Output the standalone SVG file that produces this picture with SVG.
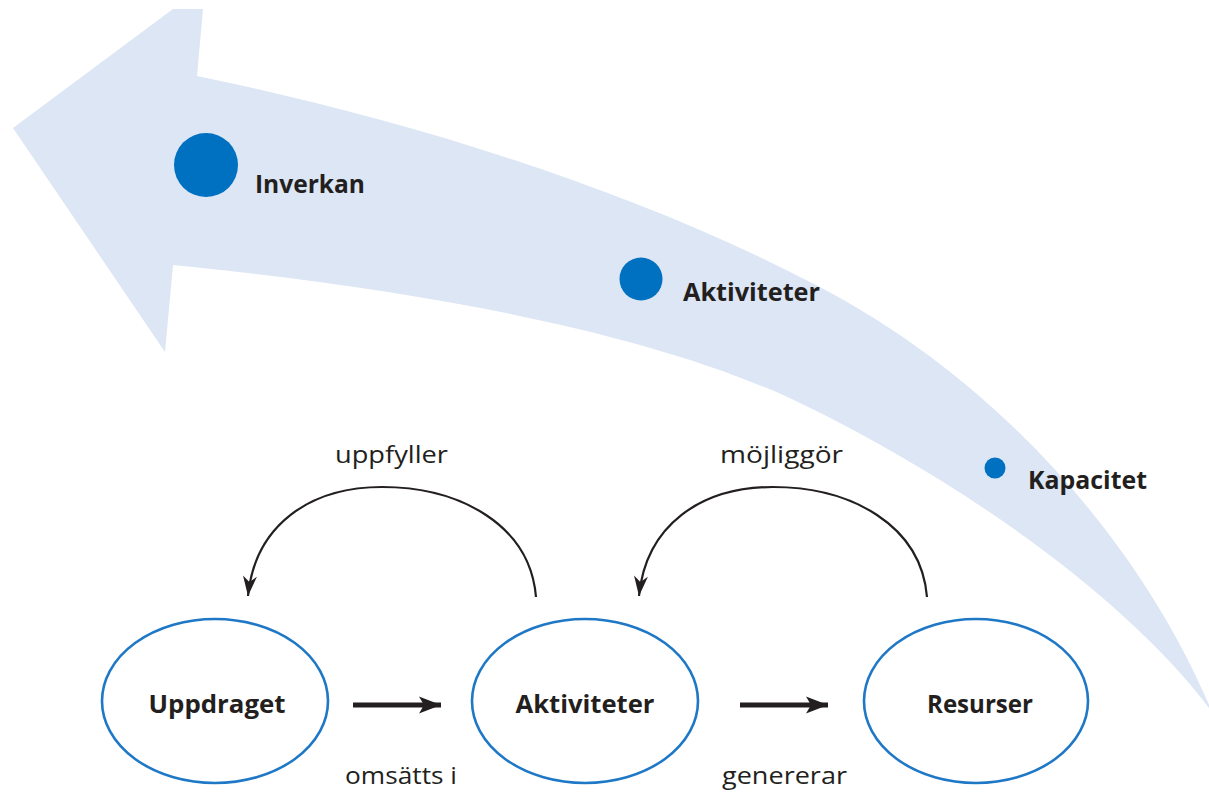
<svg xmlns="http://www.w3.org/2000/svg" width="1209" height="792" viewBox="0 0 1209 792">
  <style>
    .band { fill: #dce6f4; }
    .dot { fill: #0070c0; }
    .node { fill: none; stroke: #1f78c6; stroke-width: 2.6; }
    .lbl { font-family: "Open Sans", "Liberation Sans", sans-serif; font-weight: 700; font-size: 25px; fill: #231f20; }
    .edge-lbl { font-family: "Open Sans", "Liberation Sans", sans-serif; font-weight: 400; font-size: 24px; fill: #231f20; }
    .curve { fill: none; stroke: #231f20; stroke-width: 2.2; }
    .straight { fill: none; stroke: #231f20; stroke-width: 5; }
  </style>
  <defs>
    <marker id="headThin" markerUnits="userSpaceOnUse" viewBox="-22 -8 24 16" refX="0" refY="0" markerWidth="24" markerHeight="16" orient="auto">
      <path d="M0,0 L-20,-7 L-14,0 L-20,7 Z" fill="#231f20"/>
    </marker>
    <marker id="headThick" markerUnits="userSpaceOnUse" viewBox="-24 -10 26 20" refX="0" refY="0" markerWidth="26" markerHeight="20" orient="auto">
      <path d="M0,0 L-22,-8.5 L-17,0 L-22,8.5 Z" fill="#231f20"/>
    </marker>
  </defs>

  <g id="band">
    <path class="band" d="M13,128 L173,9 L203,9 L197,76 C400,118 620,185 800,277 C1000,375 1145,550 1212,712 C1130,600 960,480 800,403 C640,326 380,285 173,265 L165,352 Z"/>
  </g>

  <g id="level-inverkan">
    <circle class="dot" cx="206" cy="165" r="32"/>
    <text class="lbl" x="255" y="193" textLength="110" lengthAdjust="spacingAndGlyphs">Inverkan</text>
  </g>
  <g id="level-aktiviteter">
    <circle class="dot" cx="641" cy="279" r="21.5"/>
    <text class="lbl" x="683" y="301" textLength="137" lengthAdjust="spacingAndGlyphs">Aktiviteter</text>
  </g>
  <g id="level-kapacitet">
    <circle class="dot" cx="995" cy="468" r="10.5"/>
    <text class="lbl" x="1028" y="489" textLength="119" lengthAdjust="spacingAndGlyphs">Kapacitet</text>
  </g>

  <g id="connectors">
    <path class="curve" d="M536,597 C530,525 460,487 382,487 C310,487 255,525 248,596" marker-end="url(#headThin)"/>
    <path class="curve" d="M927,597 C921,525 851,487 773,487 C701,487 646,525 639,596" marker-end="url(#headThin)"/>
    <line class="straight" x1="353" y1="705" x2="441" y2="705" marker-end="url(#headThick)"/>
    <line class="straight" x1="740" y1="705" x2="828" y2="705" marker-end="url(#headThick)"/>
    <text class="edge-lbl" x="335" y="463" textLength="113" lengthAdjust="spacingAndGlyphs">uppfyller</text>
    <text class="edge-lbl" x="720" y="463" textLength="123" lengthAdjust="spacingAndGlyphs">möjliggör</text>
    <text class="edge-lbl" x="345" y="784" textLength="112" lengthAdjust="spacingAndGlyphs">omsätts i</text>
    <text class="edge-lbl" x="722" y="784" textLength="125" lengthAdjust="spacingAndGlyphs">genererar</text>
  </g>

  <g id="node-uppdraget">
    <ellipse class="node" cx="215" cy="701" rx="113" ry="82"/>
    <text class="lbl" x="217" y="713" text-anchor="middle" textLength="137" lengthAdjust="spacingAndGlyphs">Uppdraget</text>
  </g>
  <g id="node-aktiviteter">
    <ellipse class="node" cx="585" cy="701" rx="113" ry="82"/>
    <text class="lbl" x="585" y="713" text-anchor="middle" textLength="139" lengthAdjust="spacingAndGlyphs">Aktiviteter</text>
  </g>
  <g id="node-resurser">
    <ellipse class="node" cx="976" cy="701" rx="112" ry="82"/>
    <text class="lbl" x="980" y="713" text-anchor="middle" textLength="106" lengthAdjust="spacingAndGlyphs">Resurser</text>
  </g>
</svg>
